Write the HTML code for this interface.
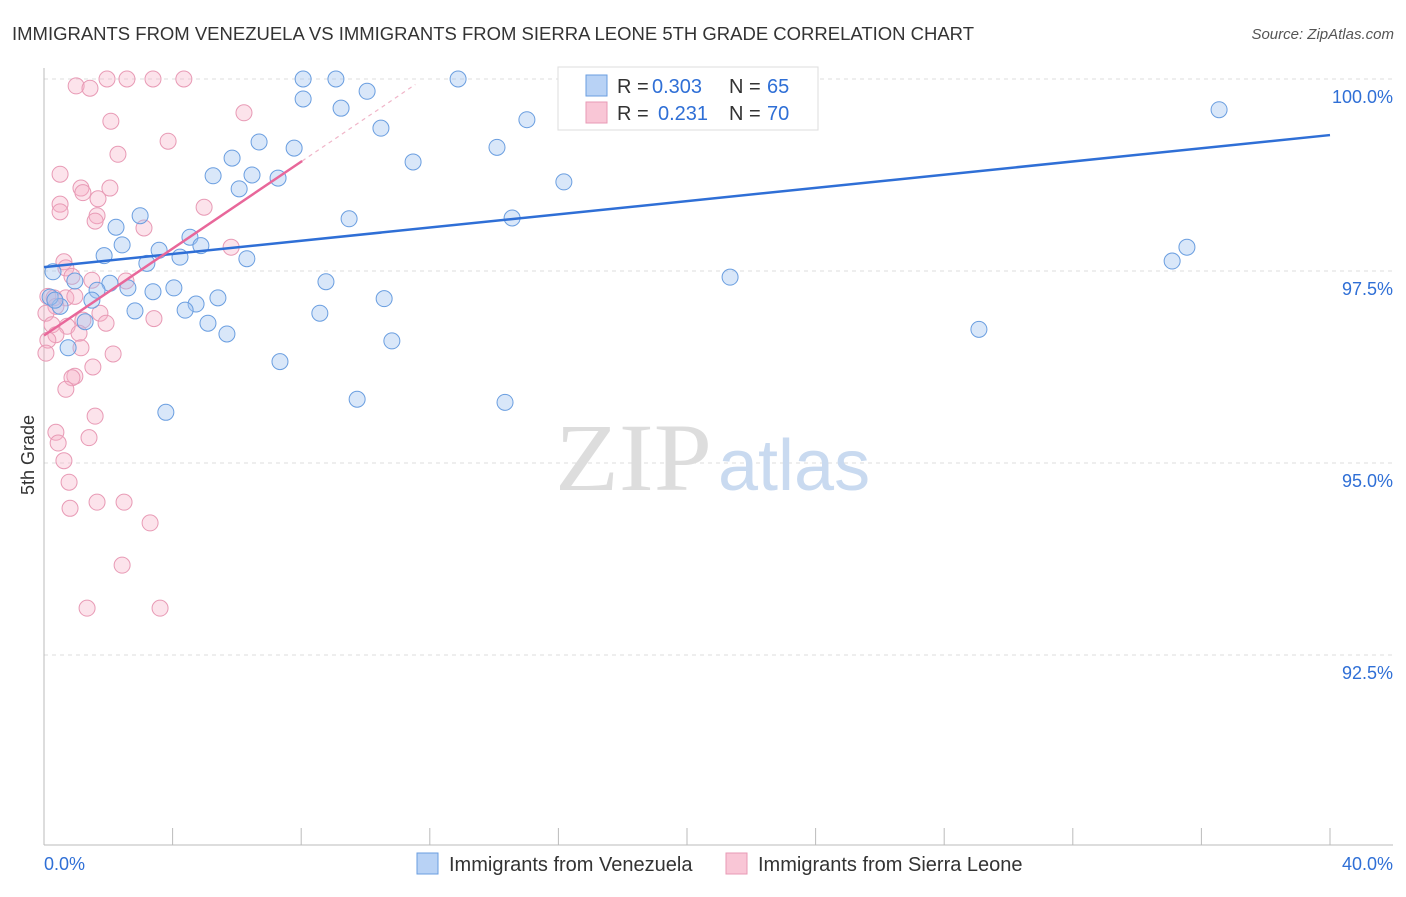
<!DOCTYPE html>
<html><head><meta charset="utf-8"><style>
body{margin:0;background:#fff;font-family:"Liberation Sans",sans-serif;}
</style></head><body>
<svg width="1406" height="892" viewBox="0 0 1406 892" xmlns="http://www.w3.org/2000/svg">
<text x="12" y="40" font-size="18" fill="#333" textLength="962" lengthAdjust="spacingAndGlyphs">IMMIGRANTS FROM VENEZUELA VS IMMIGRANTS FROM SIERRA LEONE 5TH GRADE CORRELATION CHART</text>
<text x="1394" y="39" font-size="15" fill="#555" font-style="italic" text-anchor="end">Source: ZipAtlas.com</text>
<g id="grid"></g>
<g id="axes"></g>
<text x="555" y="490" font-size="96" fill="#ddd" font-family="Liberation Serif,serif" textLength="157" lengthAdjust="spacingAndGlyphs">ZIP</text>
<text x="718" y="490" font-size="72" fill="#c9daf0">atlas</text>
<g id="pts"></g>
<g id="lines"></g>
<text transform="translate(34,455) rotate(-90)" font-size="18" fill="#333" text-anchor="middle">5th Grade</text>
<g>
<rect x="558" y="67" width="260" height="63" fill="#fff" stroke="#ddd"/>
<rect x="586" y="75" width="21" height="21" fill="#b8d2f5" stroke="#6a9ee0"/>
<rect x="586" y="102" width="21" height="21" fill="#f9c6d6" stroke="#e89ab5"/>
<text x="617" y="93" font-size="20" fill="#333">R =</text>
<text x="652" y="93" font-size="20" fill="#2f6fd6">0.303</text>
<text x="729" y="93" font-size="20" fill="#333">N =</text>
<text x="767" y="93" font-size="20" fill="#2f6fd6">65</text>
<text x="617" y="120" font-size="20" fill="#333">R =</text>
<text x="658" y="120" font-size="20" fill="#2f6fd6">0.231</text>
<text x="729" y="120" font-size="20" fill="#333">N =</text>
<text x="767" y="120" font-size="20" fill="#2f6fd6">70</text>
</g>
<g>
<rect x="417" y="853" width="21" height="21" fill="#b8d2f5" stroke="#6a9ee0"/>
<text x="449" y="871" font-size="20" fill="#333">Immigrants from Venezuela</text>
<rect x="726" y="853" width="21" height="21" fill="#f9c6d6" stroke="#e89ab5"/>
<text x="758" y="871" font-size="20" fill="#333">Immigrants from Sierra Leone</text>
</g>
</svg>
<script>
const yTicks=[100,97.5,95,92.5];
const yTickLabels=["100.0%","97.5%","95.0%","92.5%"];
const xMinLabel="0.0%", xMaxLabel="40.0%";
const blueX=[8.06,9.08,12.88,17.2,21.96,8.06,9.24,10.05,15.02,10.48,6.69,7.78,14.09,11.48,5.85,5.26,6.47,7.28,6.07,16.17,2.99,9.49,14.56,2.24,2.43,1.87,3.58,4.54,4.88,4.23,3.2,6.31,36.55,35.55,35.09,21.34,0.28,0.96,2.05,1.65,2.61,4.04,3.39,5.41,4.73,1.49,0.5,4.39,2.83,8.77,10.58,8.58,5.1,1.28,5.69,10.82,0.75,7.34,29.08,3.79,9.74,14.34,0.19,0.34];
const blueY=[100,100,100,100,100,99.74,99.62,99.84,99.47,99.36,99.18,99.1,99.11,98.92,98.97,98.74,98.75,98.71,98.57,98.66,98.22,98.18,98.19,98.07,97.84,97.7,97.77,97.94,97.83,97.68,97.6,97.66,99.6,97.81,97.63,97.42,97.49,97.37,97.34,97.25,97.28,97.28,97.23,97.15,97.07,97.12,97.04,96.99,96.98,97.36,97.14,96.95,96.82,96.84,96.68,96.59,96.5,96.32,96.74,95.66,95.83,95.79,97.16,97.12];
const pinkX=[1.0,1.43,1.96,2.58,3.39,4.35,6.22,2.08,3.86,2.3,0.5,1.15,2.05,1.21,1.68,0.5,0.5,1.65,1.59,3.11,4.98,5.82,0.62,0.68,0.87,1.49,2.55,0.12,0.31,0.68,0.96,0.37,0.06,1.74,1.21,1.93,3.42,0.25,0.72,1.09,0.37,0.12,1.15,0.06,2.15,1.52,0.96,0.87,0.68,1.59,0.37,1.4,0.44,0.62,0.78,1.65,2.49,0.81,3.3,2.43,1.34,3.61];
const pinkY=[99.91,99.88,100,100,100,100,99.56,99.45,99.19,99.02,98.76,98.58,98.58,98.52,98.44,98.37,98.27,98.22,98.15,98.06,98.33,97.81,97.62,97.54,97.43,97.38,97.37,97.17,97.15,97.15,97.17,97.04,96.95,96.95,96.86,96.82,96.88,96.8,96.78,96.69,96.67,96.6,96.5,96.43,96.42,96.25,96.13,96.11,95.96,95.61,95.4,95.33,95.26,95.03,94.75,94.49,94.49,94.41,94.22,93.67,93.11,93.11];
const blueTrend=[97.55,0.043];   // intercept, slope
const pinkTrend=[96.66,0.283];
const pinkSolidEnd=8.03, pinkDashEnd=11.55;
const NS="http://www.w3.org/2000/svg";
const X=v=>44+v*32.15, Y=v=>79+(100-v)*76.8;
function mk(t,a,p){const e=document.createElementNS(NS,t);for(const k in a)e.setAttribute(k,a[k]);p.appendChild(e);return e;}
const grid=document.getElementById('grid'),axes=document.getElementById('axes');
yTicks.forEach((t,i)=>{
 const l=mk('line',{x1:44,x2:1393,y1:Y(t),y2:Y(t),stroke:'#ddd','stroke-dasharray':'4,4'},grid);
 
 
 const tx=mk('text',{x:1393,y:Y(t)+24,'font-size':18,fill:'#2f6fd6','text-anchor':'end'},axes);
 tx.textContent=yTickLabels[i];
 
 
});
mk('line',{x1:44,x2:44,y1:68,y2:845,stroke:'#bbb'},axes);
mk('line',{x1:44,x2:1393,y1:845,y2:845,stroke:'#bbb'},axes);
for(let v=0;v<=40;v+=4){
 const tk=mk('line',{x1:X(v),x2:X(v),y1:828,y2:845,stroke:'#bbb'},axes);
 
 
}
const xl=mk('text',{x:44,y:870,'font-size':18,fill:'#2f6fd6'},axes);xl.textContent=xMinLabel;


const xr=mk('text',{x:1393,y:870,'font-size':18,fill:'#2f6fd6','text-anchor':'end'},axes);xr.textContent=xMaxLabel;


const pts=document.getElementById('pts');
pinkX.forEach((x,i)=>{const c=mk('circle',{cx:X(x),cy:Y(pinkY[i]),r:8,fill:'rgba(245,175,198,0.35)',stroke:'#e89ab5','stroke-width':1},pts);
 
 });
blueX.forEach((x,i)=>{const c=mk('circle',{cx:X(x),cy:Y(blueY[i]),r:8,fill:'rgba(160,195,240,0.4)',stroke:'#6a9ee0','stroke-width':1},pts);
 
 });
const lines=document.getElementById('lines');
const bl=mk('line',{x1:X(0),y1:Y(blueTrend[0]),x2:X(40),y2:Y(blueTrend[0]+40*blueTrend[1]),stroke:'#2f6fd6','stroke-width':2.5},lines);


const pl=mk('line',{x1:X(0),y1:Y(pinkTrend[0]),x2:X(pinkSolidEnd),y2:Y(pinkTrend[0]+pinkSolidEnd*pinkTrend[1]),stroke:'#e8679a','stroke-width':2.5},lines);


const pd=mk('line',{x1:X(pinkSolidEnd),y1:Y(pinkTrend[0]+pinkSolidEnd*pinkTrend[1]),x2:X(pinkDashEnd),y2:Y(pinkTrend[0]+pinkDashEnd*pinkTrend[1]),stroke:'#f0b5c8','stroke-width':1.2,'stroke-dasharray':'4,4'},lines);


</script>
</body></html>
